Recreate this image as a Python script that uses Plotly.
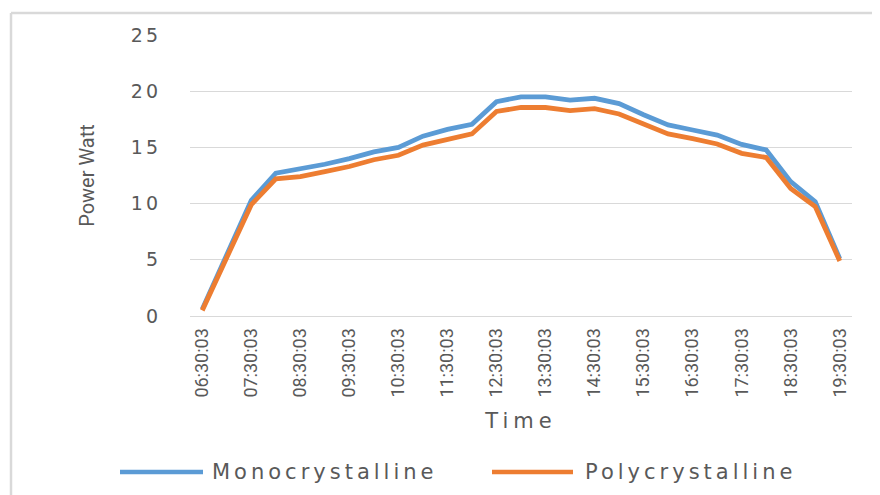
import plotly.graph_objects as go

# ---- data ----
times = ["06:30:03", "07:00:03", "07:30:03", "08:00:03", "08:30:03", "09:00:03", "09:30:03",
         "10:00:03", "10:30:03", "11:00:03", "11:30:03", "12:00:03", "12:30:03", "13:00:03",
         "13:30:03", "14:00:03", "14:30:03", "15:00:03", "15:30:03", "16:00:03", "16:30:03",
         "17:00:03", "17:30:03", "18:00:03", "18:30:03", "19:00:03", "19:30:03"]
mono = [0.6, 5.4, 10.3, 12.7, 13.05, 13.5, 14.0, 14.6, 15.0, 16.0, 16.6, 17.05, 19.07, 19.5,
        19.5, 19.2, 19.37, 18.9, 17.9, 17.0, 16.55, 16.1, 15.27, 14.77, 11.95, 10.17, 5.1]
poly = [0.5, 5.2, 9.9, 12.2, 12.4, 12.85, 13.3, 13.9, 14.3, 15.2, 15.75, 16.2, 18.2, 18.55,
        18.55, 18.27, 18.45, 17.97, 17.08, 16.2, 15.78, 15.3, 14.47, 14.1, 11.35, 9.73, 4.9]
tick_labels = times[::2]
y_ticks = [0, 5, 10, 15, 20, 25]
series_names = ["Monocrystalline", "Polycrystalline"]
colors = ["#5B9BD5", "#ED7D31"]

# page offset (browser body margin) compensation
OFF = 8
W, H = 880, 495
# plot area in screen pixels
X0, X1, Y0, Y1 = 190, 852, 35, 316
L, T = X0 - OFF, Y0 - OFF
R = (W + OFF) - X1
B = (H + OFF) - Y1
PW, PH = X1 - X0, Y1 - Y0

def px(x):
    return (x - X0) / PW

def py(y):
    return (Y1 - y) / PH

TXT = "#595959"

fig = go.Figure()
for name, vals, c in zip(series_names, [mono, poly], colors):
    fig.add_trace(go.Scatter(x=times, y=vals, name=name, mode="lines",
                             line=dict(color=c, width=4.8), showlegend=False))

fig.update_layout(
    width=W, height=H,
    margin=dict(l=L, r=R, t=T, b=B),
    paper_bgcolor="white", plot_bgcolor="white",
    font=dict(family="DejaVu Sans", color=TXT),
    xaxis=dict(type="category", range=[-0.5, len(times) - 0.5],
               tickmode="array", tickvals=tick_labels, ticktext=tick_labels,
               tickangle=-90, tickfont=dict(family="Roboto", size=18, color=TXT),
               showgrid=False, showline=True, linecolor="#D9D9D9", linewidth=1,
               ticks="", zeroline=False, ticklabelstandoff=4,
               title=dict(text='<span style="letter-spacing:5px">Time</span>',
                          font=dict(family="DejaVu Sans", size=21, color=TXT), standoff=16)),
    yaxis=dict(range=[0, 25], tickmode="array", tickvals=y_ticks,
               ticktext=[f'<span style="letter-spacing:3px">{v}</span>' for v in y_ticks],
               tickfont=dict(family="DejaVu Sans", size=19, color=TXT),
               showgrid=True, gridcolor="#D9D9D9", gridwidth=1, zeroline=False,
               showline=False, ticks="", ticklabelstandoff=28,
               title=dict(text="Power Watt", font=dict(family="Roboto", size=20, color=TXT),
                          standoff=30)),
)

# chart frame
frame = "#D9D9D9"
fig.add_shape(type="line", xref="paper", yref="paper", x0=px(11), x1=px(900), y0=py(13), y1=py(13),
              line=dict(color=frame, width=2.5))
fig.add_shape(type="line", xref="paper", yref="paper", x0=px(11), x1=px(11), y0=py(13), y1=py(520),
              line=dict(color=frame, width=2.5))

# legend
leg_y = 472
leg = [(120, 203, 210), (492, 573, 583)]
for (x0, x1, xt), name, c in zip(leg, series_names, colors):
    fig.add_shape(type="line", xref="paper", yref="paper", x0=px(x0), x1=px(x1),
                  y0=py(leg_y), y1=py(leg_y), line=dict(color=c, width=4.5))
    fig.add_annotation(xref="paper", yref="paper", x=px(xt), y=py(leg_y), xanchor="left",
                       yanchor="middle", showarrow=False,
                       text=f'<span style="letter-spacing:4px">{name}</span>',
                       font=dict(family="DejaVu Sans", size=21, color=TXT))

fig.write_html("out.html")
